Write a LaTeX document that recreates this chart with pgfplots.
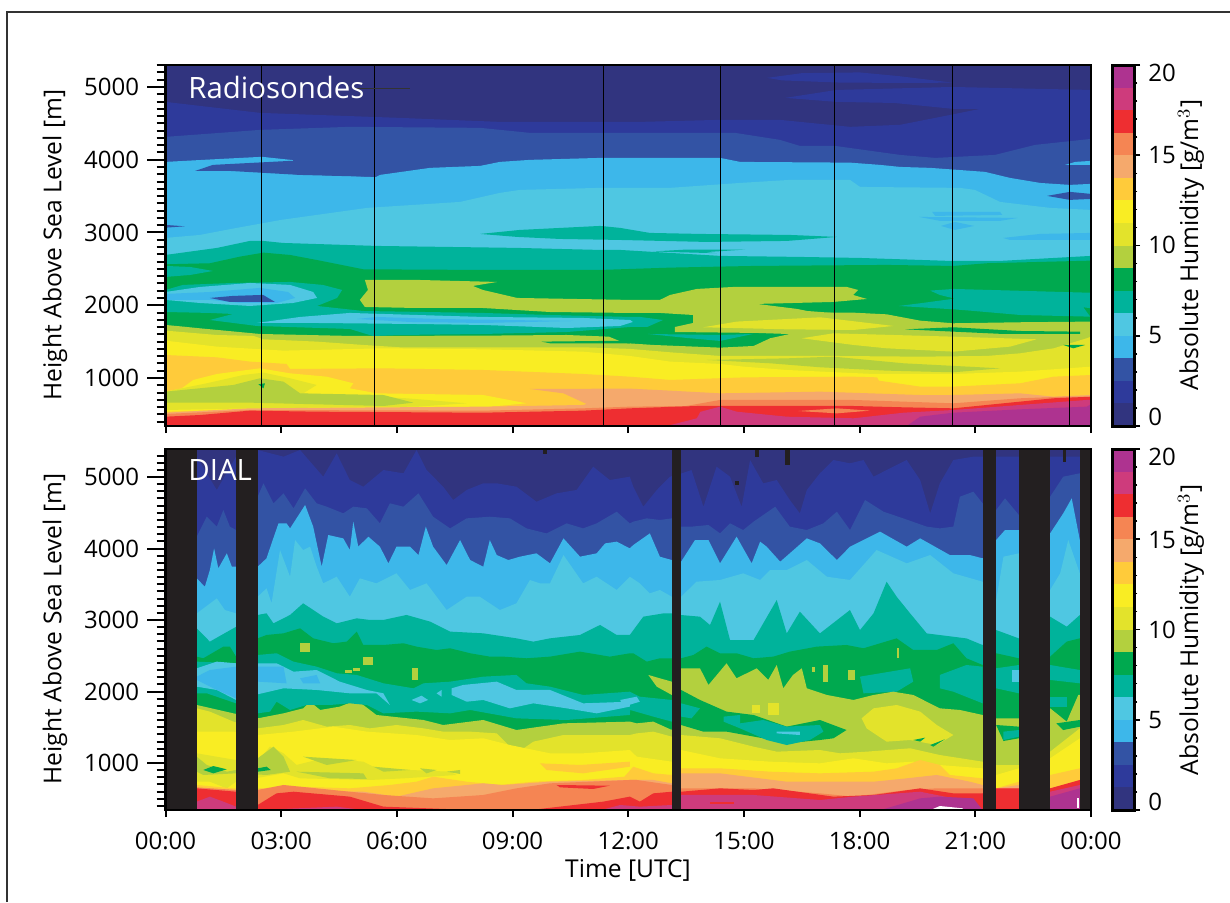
\documentclass[border=0pt]{standalone}
\usepackage{fontspec}
\setmainfont{Open Sans}
\usepackage{pgfplots}
\pgfplotsset{compat=1.18}
\definecolor{c0}{HTML}{31347F}
\definecolor{c1}{HTML}{2E3A9B}
\definecolor{c2}{HTML}{3353A4}
\definecolor{c3}{HTML}{3DB7EA}
\definecolor{c4}{HTML}{4FC7E2}
\definecolor{c5}{HTML}{00B39B}
\definecolor{c6}{HTML}{00A94F}
\definecolor{c7}{HTML}{B3D03E}
\definecolor{c8}{HTML}{E3E32B}
\definecolor{c9}{HTML}{F9ED23}
\definecolor{c10}{HTML}{FFCB3A}
\definecolor{c11}{HTML}{F5A96C}
\definecolor{c12}{HTML}{F58553}
\definecolor{c13}{HTML}{EE2E31}
\definecolor{c14}{HTML}{CE3B7C}
\definecolor{c15}{HTML}{AE3390}
\definecolor{barblack}{HTML}{231F20}
\newcommand\Band[2]{\addplot[fill=#1,draw=none] coordinates {#2} \closedcycle;}
\newcommand\Step[2]{\addplot[fill=#1,draw=none] coordinates {#2} \closedcycle;}
\newcommand\Patch[2]{\addplot[fill=#1,draw=none] coordinates {#2} --cycle;}
\newcommand\Sonde[1]{\addplot[black,line width=.5pt] coordinates {(#1,300)(#1,5500)};}
\newcommand\tickfont{\fontsize{12}{14}\selectfont}
\newcommand\labfont{\fontsize{12.3}{14}\selectfont}
\pgfplotsset{
  panel/.style={
    scale only axis, anchor=south west, width=462.75pt, height=180.5pt,
    xmin=0, xmax=24, clip=true, axis on top=true,
    axis line style={line width=1.2pt}, tick style={black,line width=1pt},
    tick align=outside, xtick pos=bottom, ytick pos=left,
    xtick={0,3,...,24}, ytick={1000,2000,3000,4000,5000},
    minor ytick={400,500,...,5300},
    major tick length=9pt, minor tick length=4.5pt,
    xtick style={/pgfplots/major tick length=3.5pt},
    scaled y ticks=false,
    yticklabel style={font=\tickfont,inner sep=0pt,xshift=-4pt,/pgf/number format/1000 sep=,/pgf/number format/assume math mode=true},
    xticklabel style={font=\tickfont,inner sep=0pt,yshift=-2pt},
  },
  cbar/.style={
    scale only axis, anchor=south west, width=11pt, height=180.5pt,
    xmin=0, xmax=1, ymin=0, ymax=20, xtick=\empty, axis on top=true,
    axis line style={line width=1.5pt}, tick style={black,line width=.8pt},
    tick align=outside, ytick pos=right, ytick={0,5,10,15,20}, minor ytick={1,2,...,19},
    yticklabels={}, major tick length=3pt, minor tick length=1.7pt,
  },
}
\newcommand\CbarFill{%
  \Patch{c0}{(0,0)(1,0)(1,1.25)(0,1.25)}
  \Patch{c1}{(0,1.25)(1,1.25)(1,2.5)(0,2.5)}
  \Patch{c2}{(0,2.5)(1,2.5)(1,3.75)(0,3.75)}
  \Patch{c3}{(0,3.75)(1,3.75)(1,5)(0,5)}
  \Patch{c4}{(0,5)(1,5)(1,6.25)(0,6.25)}
  \Patch{c5}{(0,6.25)(1,6.25)(1,7.5)(0,7.5)}
  \Patch{c6}{(0,7.5)(1,7.5)(1,8.75)(0,8.75)}
  \Patch{c7}{(0,8.75)(1,8.75)(1,10)(0,10)}
  \Patch{c8}{(0,10)(1,10)(1,11.25)(0,11.25)}
  \Patch{c9}{(0,11.25)(1,11.25)(1,12.5)(0,12.5)}
  \Patch{c10}{(0,12.5)(1,12.5)(1,13.75)(0,13.75)}
  \Patch{c11}{(0,13.75)(1,13.75)(1,15)(0,15)}
  \Patch{c12}{(0,15)(1,15)(1,16.25)(0,16.25)}
  \Patch{c13}{(0,16.25)(1,16.25)(1,17.5)(0,17.5)}
  \Patch{c14}{(0,17.5)(1,17.5)(1,18.75)(0,18.75)}
  \Patch{c15}{(0,18.75)(1,18.75)(1,20)(0,20)}
}
\begin{document}
\begin{tikzpicture}
\useasboundingbox (0pt,0pt) rectangle (615pt,451pt);
\draw[line width=1.2pt,color=black!80] (3.5pt,0pt) -- (3.5pt,445pt) -- (615pt,445pt);

% ---------- Radiosondes ----------
\begin{axis}[panel, at={(82.75pt,238pt)}, ymin=340, ymax=5302, xticklabels={}]
\Patch{c0}{(0,300)(24,300)(24,5500)(0,5500)}
\Band{c1}{(0,4795)(.89,4740)(2.45,4644)(6.08,4575)(8.67,4520)(12.31,4520)(14.38,4548)(15.93,4548)(17.75,4452)(19.05,4480)(20.35,4616)(21.64,4754)(24,4781)}
\Patch{c1}{(15.6,5125)(16.5,5190)(18,5200)(19,5150)(20.4,5060)(19.5,5055)(17.5,5060)(16,5090)}
\Patch{c1}{(16.07,4850)(17.4,4959)(20.4,5000)(24,4959)(24,4700)(20.4,4700)(18.9,4780)(17.4,4795)}
\Band{c2}{(0,4314)(1.41,4369)(2.45,4410)(4.78,4452)(8.16,4438)(9.45,4369)(11.27,4369)(14.77,4369)(15.93,4273)(16.45,4190)(17.36,4190)(19.05,4066)(19.96,4025)(21.51,4066)(22.55,4204)(24,4286)}
\Band{c3}{(0,3970)(1.4,4010)(2.5,4040)(3.3,3995)(3.35,3800)(5.46,3764)(5.56,3791)(6.86,3888)(8.16,3915)(8.67,3970)(9.45,3998)(11.27,4025)(14.38,4025)(14.9,3970)(17.75,3960)(18.53,3929)(19.05,3901)(19.83,3888)(21.25,3833)(21.9,3750)(22.68,3681)(23.45,3654)(24,3668)}
\Patch{c2}{(.77,3846)(1.23,3929)(3.23,3984)(5.46,3998)(5.46,3764)(3.49,3791)(1.67,3846)}
\Patch{c3}{(23.33,3929)(23.59,3970)(24,3984)(24,3929)}
\Band{c4}{(0,2925)(.89,2966)(1.85,3063)(3,3173)(5.23,3338)(7.64,3420)(8.67,3544)(9.19,3585)(11.27,3613)(13.08,3613)(14.9,3681)(16.2,3723)(17.75,3723)(18.01,3626)(20.6,3613)(20.99,3585)(21.64,3420)(22.94,3338)(24,3310)}
\Patch{c3}{(19.88,3283)(21.64,3283)(21.7,3241)(19.96,3228)}
\Patch{c3}{(19.54,3214)(22.1,3200)(21.64,3159)(20.09,3159)}
\Patch{c3}{(20.11,3090)(20.47,3145)(20.97,3090)(20.47,3035)}
\Patch{c3}{(21.72,2925)(22.68,2980)(24,2994)(24,2897)(21.9,2897)}
\Patch{c2}{(22.86,3503)(23.45,3558)(24,3530)(24,3461)(23.45,3448)}
\Patch{c2}{(0,3104)(.5,3085)(0,3066)}
\Band{c5}{(0,2691)(1.34,2788)(2.19,2884)(2.53,2884)(3.05,2856)(5.48,2815)(9.12,2788)(11.27,2760)(11.79,2760)(14.38,2678)(16.45,2664)(18.01,2650)(20.35,2609)(21.64,2609)(24,2678)}
\Patch{c5}{(8.16,2980)(9.19,3035)(11.27,3090)(11.79,3063)(12.56,2994)(13.86,2980)(16.2,2966)(17.41,2939)(16.12,2884)(14.04,2870)(11.71,2898)(10.23,2911)(9.12,2939)}
\Patch{c5}{(12.65,2740)(13.5,2765)(15.03,2765)(14,2730)(14.3,2715)(13.2,2730)}
\Band{c6}{(0,2563)(1.15,2577)(1.93,2668)(2.54,2723)(3.23,2691)(3.92,2622)(4.35,2577)(5.13,2494)(8.24,2485)(11.27,2485)(13.09,2517)(15.25,2540)(18.7,2554)(20.43,2540)(21.3,2577)(24,2613)}
\Patch{c5}{(0,2540)(.64,2526)(1.23,2471)(.64,2416)(0,2389)}
\Patch{c5}{(19.83,2201)(20.43,2224)(23.89,2173)(24,2173)(24,1958)(23.8,1972)(23.98,1843)(22.16,1866)(20.86,1926)(20.43,1944)(19.01,1990)(19.57,2027)(20.47,2091)(20.08,2141)}
\Band{c7}{(0,1729)(.46,1706)(.89,1683)(2.45,1605)(4.78,1578)(8.24,1582)(10.4,1591)(11.5,1568)(11.9,1480)(12.65,1454)(14.38,1417)(15.25,1440)(15.68,1546)(16.15,1600)(16.2,1889)(17.32,1898)(17.84,1898)(18.7,1875)(19.57,1788)(20.43,1752)(22.16,1766)(24,1775)}
\Patch{c7}{(5.17,2348)(6.52,2348)(8.6,2320)(7.97,2265)(8.23,2210)(9.12,2100)(12.05,2073)(12.82,2073)(13.08,2141)(13.78,2224)(14.72,2251)(17.67,2251)(17.96,2210)(17.83,2141)(18.19,2086)(17.31,2045)(15.34,2018)(16.38,1949)(16.64,1921)(17.31,1894)(17.31,1660)(16.14,1605)(15.34,1619)(13.21,1632)(13.21,1701)(13.68,1756)(13.68,1866)(12.82,1894)(12.05,1894)(9.97,1907)(8.23,1962)(6.52,1962)(5.17,1976)(5.04,2073)(5.25,2210)}
\Patch{c5}{(0,2210)(.45,2279)(1.75,2306)(3.23,2320)(4.08,2279)(4.58,2210)(4.45,2100)(3.93,1990)(5.12,1921)(8.23,1894)(9.97,1866)(12.05,1839)(12.31,1839)(12.9,1797)(12.49,1701)(12.05,1701)(10.41,1632)(8.23,1605)(6.08,1591)(5.38,1577)(4.78,1674)(2.37,1715)(1.15,1797)(1.75,1880)(1.15,1894)(0,1907)}
\Patch{c5}{(12.51,1605)(14.38,1591)(15.23,1605)(14.38,1509)(13.52,1550)}
\Patch{c4}{(2.37,1756)(3.49,1839)(4.78,1894)(6.52,1866)(8.23,1839)(10.83,1825)(12.05,1797)(12.12,1770)(11.79,1715)(10.41,1687)(8.23,1729)(6.52,1742)(3.93,1756)}
\Patch{c3}{(4.97,1811)(5.48,1839)(7.04,1811)(10.57,1784)(8.23,1756)(6.34,1770)}
\Patch{c4}{(0,2182)(.89,2251)(2.19,2306)(3.23,2279)(3.83,2182)(3.93,2100)(3.31,2031)(2.19,1990)(.89,2031)(0,2073)}
\Patch{c3}{(0,2155)(1.15,2182)(2.45,2238)(3.18,2182)(3.36,2100)(2.89,2031)(1.93,2031)(1.15,2073)(0,2073)}
\Patch{c2}{(1.15,2100)(1.75,2128)(2.53,2142)(2.84,2045)(1.67,2045)}
\Patch{c6}{(9.75,1500)(12.04,1513)(12.04,1477)(9.97,1477)}
\Band{c8}{(0,1651)(1.33,1591)(2.28,1578)(2.54,1532)(3.92,1500)(5.13,1454)(6.08,1422)(8.24,1422)(10.83,1422)(12.04,1400)(13.09,1353)(14.38,1303)(17.3,1303)(19.57,1293)(21.3,1303)(22.16,1339)(23.03,1408)(23.89,1546)(24,1568)}
\Patch{c8}{(16.5,1546)(17.32,1614)(20.43,1568)(22.59,1532)(21.9,1431)(20.43,1362)(18.7,1408)(17.84,1454)}
\Patch{c8}{(13.95,1697)(14.81,1775)(16.98,1834)(18.88,1715)(17.84,1660)(16.11,1669)}
\Patch{c6}{(19.18,1669)(20.43,1697)(22.16,1646)(23.72,1637)(23.72,1605)(21.73,1605)(20.43,1637)}
\Patch{c6}{(23.28,1454)(23.85,1454)(23.54,1408)}
\Patch{c7}{(14.04,1248)(16.11,1270)(17.32,1293)(19.14,1202)(21.64,1133)(20.43,1078)(18.7,1101)(16.98,1147)(15.68,1202)}
\Band{c9}{(0,1513)(1.33,1431)(3.06,1376)(5.65,1408)(8.24,1394)(10.83,1362)(12.04,1303)(13.09,1225)(14.38,1193)(14.99,1156)(16.11,1110)(18.36,1055)(20.43,1055)(22.16,1087)(24,1156)}
\Band{c10}{(0,1316)(1.33,1284)(2.19,1225)(3.14,1193)(3.23,1124)(5.65,1133)(8.24,1110)(10.83,1055)(12.04,1018)(13.09,973)(15.03,1009)(17.84,1018)(18.45,1009)(18.5,963)(19.57,881)(20.43,881)(22.16,927)(23.03,1018)(24,1041)}
\Patch{c9}{(.42,858)(.72,973)(1.33,1055)(2.45,1133)(3.23,1064)(4.18,1018)(4.87,927)(4.78,858)(5.48,789)(8.24,766)(9.36,652)(8.24,597)(2.19,569)(0,537)(0,812)}
\Patch{c8}{(0,812)(1.07,927)(2.02,1041)(2.54,1074)(3.23,996)(3.92,904)(3.57,789)(6.25,721)(7.81,652)(6.51,606)(2.19,583)(0,560)}
\Patch{c7}{(0,812)(1.76,904)(2.45,996)(3.06,950)(3.49,789)(5.65,766)(6.43,661)(5.65,615)(2.19,661)(0,661)}
\Patch{c6}{(2.41,913)(2.58,927)(2.54,858)}
\Band{c11}{(0,523)(2.19,583)(8.24,606)(10.83,629)(10.92,643)(10.32,789)(9.45,849)(12.04,854)(13.09,826)(14.38,789)(16.98,812)(19.57,766)(20.43,766)(22.16,789)(23.03,743)(24,766)}
\Band{c12}{(0,505)(2.19,560)(8.24,551)(10.83,583)(12.04,606)(13.5,615)(14.38,698)(17.84,698)(20.43,652)(22.16,721)(23.3,743)(24,743)}
\Band{c13}{(0,468)(.89,491)(2.19,551)(3.92,537)(8.24,523)(10.83,551)(12.04,583)(13.78,615)(17.84,615)(19.14,597)(20.43,583)(22.16,675)(23.03,721)(24,743)}
\Patch{c14}{(13,340)(13.78,446)(13.87,535)(14.38,606)(14.81,537)(16.11,468)(17.84,446)(19.14,523)(20.43,560)(22.16,629)(23.89,698)(24,698)(24,340)}
\Patch{c15}{(19.22,340)(19.57,468)(20.43,523)(22.16,569)(23.89,606)(24,640)(24,340)}
\Patch{c12}{(16.41,546)(17.41,583)(18.27,551)(17.41,514)}
\Sonde{2.48}\Sonde{5.43}\Sonde{11.37}\Sonde{14.4}\Sonde{17.34}\Sonde{20.4}\Sonde{23.43}
\addplot[black!80,line width=.5pt] coordinates {(4.9,4985)(6.35,4985)};
\end{axis}

% ---------- DIAL ----------
\begin{axis}[panel, at={(82.75pt,46pt)}, ymin=343, ymax=5392,
  xticklabels={00:00,03:00,06:00,09:00,12:00,15:00,18:00,21:00,00:00}]
\Patch{c0}{(0,300)(24,300)(24,5500)(0,5500)}
\Step{c1}{(.81,5285)(1.33,4819)(1.83,5285)(2.39,5378)(3.06,5285)(3.49,5378)(4.09,5005)(4.44,5331)(4.78,4958)(5.13,4865)(5.65,5098)(6.17,5052)(6.51,5378)(6.77,5098)(7.2,4865)(7.46,4679)(7.81,4819)(8.24,4912)(8.59,4912)(9.1,4865)(9.62,4655)(10.14,4772)(10.66,4819)(11.09,5145)(11.52,4958)(12.04,5005)(12.13,4865)(12.39,4585)(12.74,4819)(13.08,5005)(13.39,5052)(13.64,5098)(13.95,4585)(14.29,5145)(14.64,5005)(14.94,4585)(15.16,5238)(15.5,4912)(15.85,4958)(16.19,4679)(16.45,4492)(16.63,4819)(16.97,5052)(17.32,5238)(17.75,5192)(18.1,5238)(18.36,5005)(18.7,5098)(19.22,5238)(19.57,4958)(19.83,4492)(20.08,4912)(20.43,5238)(20.95,5285)(21.19,5285)(24,5285)}
\Step{c2}{(.81,4166)(1.07,4445)(1.33,4306)(1.5,4539)(1.67,4306)(1.83,4259)(2.39,4725)(2.54,4912)(2.8,4632)(3.06,4772)(3.32,4562)(3.62,4842)(3.92,4632)(4.18,4585)(4.61,4492)(4.87,4585)(5.22,4562)(5.56,4352)(5.82,4632)(6.17,4585)(6.56,4772)(6.94,4445)(7.38,4282)(7.81,4422)(8.41,4445)(8.93,4422)(9.36,4282)(9.88,4212)(10.4,4352)(10.83,4282)(11.18,4352)(11.7,4515)(12.04,4352)(12.13,4376)(12.48,4422)(12.82,4399)(13.13,4422)(13.37,4306)(13.64,4306)(14.08,4329)(14.38,4212)(14.64,4352)(14.98,4259)(15.25,4376)(15.81,4585)(16.19,4306)(16.63,4259)(17.06,4352)(17.41,4515)(17.75,4259)(18.14,4679)(18.62,4515)(19.13,4422)(19.74,4306)(20.08,4282)(20.43,4306)(20.6,4725)(20.95,4795)(21.19,4632)(21.54,4539)(21.77,4702)(22.13,4469)(22.94,4725)(23.28,5005)(23.71,5052)(24,5052)}
\Step{c3}{(.81,3583)(1.02,3466)(1.15,3699)(1.26,4003)(1.37,3723)(1.59,3933)(1.72,3746)(1.83,3746)(2.39,3746)(2.62,3863)(2.75,4072)(2.93,4352)(3.14,4352)(3.23,4282)(3.62,4609)(3.83,4306)(4.05,3746)(4.22,4189)(4.61,4142)(4.78,3979)(4.87,4376)(5,4026)(5.26,4166)(5.56,4026)(5.78,3793)(5.99,4026)(6.34,4026)(6.56,3909)(6.75,4306)(6.94,4026)(7.29,3769)(7.64,4119)(7.9,3839)(8.24,3746)(8.41,4119)(8.59,3909)(8.89,3839)(9.19,3886)(9.62,3933)(9.97,3793)(10.32,4142)(10.75,3886)(11.18,3933)(11.4,4072)(11.7,4096)(12.04,4003)(12.13,4049)(12.56,4212)(12.82,3886)(13.13,3839)(13.37,3816)(13.73,4119)(14.08,4119)(14.38,3793)(14.81,4166)(15.2,3793)(15.42,4096)(15.59,4026)(15.94,3816)(16.63,4142)(16.97,4072)(17.41,3839)(17.75,4026)(18.53,4236)(19.22,4026)(19.57,4142)(20.34,3909)(20.86,3909)(21.19,3863)(21.54,4119)(21.77,4259)(22.13,4259)(22.94,4212)(23.28,4492)(23.5,4702)(23.71,4119)(24,4119)}
\Step{c4}{(.81,3093)(1.33,3303)(1.54,3140)(1.83,3093)(2.39,3326)(2.62,3443)(2.75,3233)(2.97,3979)(3.23,3606)(3.36,4119)(3.57,3979)(3.75,4026)(3.92,3746)(4.09,3513)(4.44,3606)(4.78,3326)(5.04,3583)(5.47,3513)(5.99,3653)(6.34,3420)(6.77,3513)(7.29,3140)(7.81,3326)(8.15,3326)(8.67,3140)(9.1,3233)(9.45,3560)(9.71,3513)(9.97,3513)(10.32,3909)(10.83,3513)(11.18,3606)(11.7,3420)(12.04,3606)(12.3,3513)(12.56,3373)(12.82,3420)(13.13,3326)(13.37,3326)(13.77,3536)(14.38,3560)(14.98,3653)(15.42,3560)(15.68,3699)(16.11,3699)(16.63,3839)(17.15,3606)(17.75,3560)(18.44,3979)(19.22,3793)(19.83,3909)(20.43,3653)(21.19,3536)(21.54,3280)(21.73,3886)(22.13,3933)(22.94,3420)(23.2,3653)(23.41,4119)(23.71,3653)(24,3653)}
\Step{c5}{(.81,2884)(1.15,2698)(1.76,2884)(2.39,3071)(2.62,3094)(2.8,2954)(3.23,3071)(3.57,3234)(4.09,3048)(4.44,2954)(4.96,3024)(5.3,3001)(5.65,3001)(6.25,3071)(6.86,2978)(7.38,2838)(8.24,2814)(9.1,2744)(9.54,2698)(9.97,2744)(10.75,2791)(11.09,2884)(11.27,2931)(11.7,2791)(12.04,2791)(12.39,3047)(12.91,3093)(13.13,3093)(13.37,3070)(13.86,3047)(14.12,2930)(14.38,3256)(14.64,2720)(15.25,2720)(15.85,3280)(16.11,2813)(16.45,3117)(16.97,2813)(17.75,3140)(18.01,2860)(18.36,3093)(18.7,3536)(18.96,3326)(19.31,3093)(19.74,2813)(20.08,2790)(20.77,2743)(21.19,2650)(21.54,2860)(22.13,2743)(22.94,3047)(23.37,2907)(23.71,3070)(24,3070)}
\Step{c6}{(.81,2488)(.98,2465)(1.5,2628)(1.67,2628)(1.83,2488)(2.39,2744)(2.62,2791)(3.06,2814)(3.49,2884)(3.83,2744)(4.35,2675)(4.7,2698)(4.96,2838)(5.13,2651)(5.65,2651)(6.17,2675)(6.51,2628)(7.03,2581)(7.38,2605)(7.9,2535)(8.41,2488)(8.76,2488)(9.36,2465)(9.97,2488)(10.75,2558)(11.52,2488)(12.04,2535)(12.13,2535)(12.48,2418)(12.82,2465)(13.13,2465)(13.37,2465)(13.69,2511)(14.03,2628)(14.38,2535)(14.81,2535)(15.25,2465)(15.76,2488)(16.19,2558)(16.89,2628)(17.66,2651)(18.1,2605)(18.96,2744)(19.39,2581)(20,2581)(20.43,2675)(20.77,2465)(21.19,2371)(21.54,2535)(22.13,2465)(22.94,2488)(23.37,2698)(23.71,2744)(24,2744)}
\Patch{c7}{(3.49,2558)(3.75,2558)(3.75,2675)(3.49,2675)}
\Patch{c7}{(5.13,2371)(5.39,2371)(5.39,2488)(5.13,2488)}
\Patch{c7}{(6.38,2162)(6.56,2162)(6.56,2325)(6.38,2325)}
\Patch{c7}{(4.65,2255)(4.83,2255)(4.83,2301)(4.65,2301)}
\Patch{c7}{(4.87,2287)(5.04,2287)(5.04,2325)(4.87,2325)}
\Patch{c5}{(18.01,2208)(19.31,2325)(19.39,2138)(18.96,1998)(18.1,1975)}
\Patch{c5}{(20.08,2232)(20.77,2371)(21.19,2348)(21.19,1835)(20.43,1998)(20.08,2045)}
\Patch{c5}{(21.54,2325)(22.13,2371)(22.13,1975)(21.54,2045)}
\Patch{c4}{(21.94,2301)(22.12,2301)(22.12,2138)(21.94,2138)}
\Patch{c5}{(22.94,2371)(23.71,2301)(23.71,2115)(22.94,2162)}
\Patch{c5}{(22.94,1928)(23.37,1928)(23.37,1788)(22.94,1788)}
\Patch{c7}{(18.96,2605)(19.03,2605)(19.03,2465)(18.96,2465)}
\Patch{c7}{(17.71,2301)(17.88,2301)(17.88,2162)(17.71,2162)}
\Patch{c7}{(17.06,2371)(17.19,2371)(17.19,2138)(17.06,2138)}
\Patch{c7}{(16.76,2348)(16.84,2348)(16.84,2278)(16.76,2278)}
\Step{c7}{(.81,1812)(1.76,1695)(2.39,1625)(3.06,1695)(3.57,1765)(3.75,1858)(4.01,1742)(4.52,1789)(4.96,1882)(5.47,1672)(6.69,1602)(7.2,1532)(8.24,1602)(9.1,1462)(10.32,1555)(12.04,1579)(12.22,1555)(12.65,1579)(13.13,1462)(13.37,2325)(13.86,2325)(14.08,2092)(14.55,2395)(14.81,2185)(15.33,2325)(15.63,2162)(15.85,2371)(16.02,2045)(16.27,2231)(16.5,2325)(16.63,2045)(17.15,1952)(17.84,1882)(18.36,1952)(18.87,1998)(19.39,1952)(20.08,1765)(20.6,1742)(21.19,1672)(21.54,1625)(22.13,1625)(22.94,1765)(23.37,1579)(23.67,1952)(24,1952)}
\Patch{c7}{(12.52,2232)(12.82,2185)(13.13,2138)(13.13,1952)(12.74,2068)}
\Patch{c6}{(13.37,2022)(13.86,1882)(14.55,1719)(15.25,1672)(16.11,1509)(16.97,1602)(17.66,1462)(17.32,1346)(16.97,1322)(16.11,1276)(15.5,1346)(14.55,1439)(13.95,1439)(13.37,1532)}
\Patch{c5}{(13.37,1835)(13.86,1765)(13.64,1625)(13.37,1649)}
\Patch{c5}{(14.47,1649)(14.9,1672)(14.9,1555)(15.5,1602)(16.11,1509)(16.97,1532)(17.06,1439)(16.71,1322)(16.11,1252)(15.59,1322)(14.9,1485)(14.47,1579)}
\Patch{c4}{(15.85,1439)(16.45,1439)(16.45,1392)(15.85,1415)}
\Patch{c6}{(21.54,1532)(22.13,1509)(22.13,1346)(21.73,1308)}
\Patch{c5}{(21.73,1439)(22.13,1462)(22.13,1369)(21.73,1322)}
\Patch{c6}{(23.1,1555)(23.71,1602)(23.71,1508)(23.28,1462)}
\Patch{c5}{(.81,2418)(1.83,2395)(2.39,2511)(2.88,2535)(3.32,2418)(3.92,2348)(4.44,2255)(4.96,2232)(5.65,2115)(6.43,2045)(6.69,2115)(7.38,2138)(8.24,2208)(9.1,2232)(9.36,2115)(9.97,2068)(10.83,1952)(12.04,1998)(12.3,1928)(13.13,1882)(13.13,1579)(12.65,1649)(12.05,1742)(12.04,1672)(10.4,1602)(9.1,1625)(7.9,1742)(7.38,1695)(6.51,1719)(5.65,1695)(5.22,1812)(4.78,1835)(4.27,1812)(3.66,1812)(3.23,1742)(2.88,1858)(2.71,1719)(2.39,1695)(1.83,1835)(1.07,1975)(.81,1975)}
\Patch{c4}{(.81,2325)(1.33,2418)(1.83,2395)(2.39,2395)(2.88,2395)(3.32,2278)(3.92,2301)(4.52,2138)(5.22,2022)(5.65,1975)(5.82,1812)(5.47,1975)(4.78,1975)(3.92,2022)(3.06,2045)(2.39,1961)(1.83,1882)(1.33,2022)(.81,2068)}
\Patch{c3}{(.81,2208)(1.15,2301)(1.83,2348)(2.39,2348)(3.06,2348)(3.14,2115)(2.39,2138)(1.83,1905)(1.33,2022)(.81,2162)}
\Patch{c3}{(3.49,2185)(3.92,2232)(4.01,2115)(3.57,2115)}
\Patch{c4}{(7.42,2045)(7.72,2092)(8.59,2138)(9.1,2022)(9.97,2022)(10.83,1835)(12.04,1858)(12.04,1789)(11.18,1695)(10.4,1765)(9.54,1835)(8.93,1765)(8.24,1882)(7.81,1858)(7.42,1952)}
\Patch{c4}{(7.03,1975)(7.16,2022)(7.16,1928)}
\Patch{c4}{(6.38,1882)(6.64,1942)(6.81,1882)(6.6,1835)}
\Patch{c4}{(11.79,1882)(12.22,1928)(12.3,1858)(11.87,1788)}
\Step{c8}{(.81,1765)(1.15,1719)(1.76,1579)(2.39,1485)(3.06,1532)(3.57,1602)(4.18,1509)(4.78,1532)(5.3,1485)(5.99,1532)(6.69,1485)(7.2,1439)(7.9,1439)(8.59,1415)(9.1,1136)(9.54,1299)(10.32,1392)(10.83,1392)(12.04,1392)(12.22,1415)(12.65,1439)(13.13,1369)(13.37,1392)(14.38,1346)(15.25,1229)(15.85,1159)(16.97,1182)(17.49,1136)(18.18,1159)(19.31,1206)(20.08,1112)(21.19,1019)(21.54,972)(22.13,972)(22.94,1159)(23.71,1485)(24,1485)}
\Patch{c8}{(18.05,1625)(18.36,1765)(18.96,1812)(19.57,1719)(20,1532)(20.43,1392)(20,1252)(19.31,1322)(18.7,1299)(18.18,1485)}
\Patch{c8}{(15.2,1812)(15.42,1812)(15.42,1695)(15.2,1695)}
\Patch{c8}{(15.63,1835)(15.9,1835)(15.9,1672)(15.63,1672)}
\Patch{c6}{(19.39,1322)(19.7,1355)(19.57,1299)}
\Patch{c6}{(19.83,1252)(20.21,1332)(19.91,1229)}
\Step{c9}{(.81,1439)(1.76,1439)(2.39,1392)(3.32,1439)(4.35,1509)(5.22,1439)(6.51,1392)(7.38,1322)(8.24,1346)(8.93,1252)(9.97,1136)(10.83,1136)(12.04,1182)(12.22,1089)(13.13,1019)(13.37,1182)(14.38,1066)(15.68,1019)(16.97,996)(17.84,1066)(18.7,996)(19.39,1019)(20.08,972)(21.19,926)(21.54,833)(22.13,926)(22.94,1066)(23.71,1346)(24,1346)}
\Patch{c8}{(.81,1136)(1.83,1042)(2.39,1019)(2.71,1229)(3.06,1136)(3.4,973)(4.09,1066)(5.13,1019)(5.47,926)(6.34,903)(7.38,879)(7.55,833)(6.17,786)(5.3,763)(3.49,786)(3.06,856)(1.83,739)(1.59,646)(1.15,739)(.81,739)}
\Patch{c7}{(.81,1089)(1.07,973)(1.59,879)(1.83,903)(2.39,1066)(2.8,1229)(3.06,1089)(3.23,879)(2.62,833)(1.83,856)(.98,833)(.81,879)}
\Patch{c7}{(3.57,1089)(4.96,1042)(4.18,973)}
\Patch{c7}{(5.39,949)(6.34,903)(5.65,879)}
\Patch{c7}{(3.4,879)(5.13,856)(5.22,777)(4.27,786)}
\Patch{c7}{(6.6,926)(7.03,903)(6.77,856)}
\Patch{c7}{(7.29,879)(7.64,903)(7.64,847)}
\Patch{c6}{(.98,903)(1.24,958)(1.59,912)(1.24,856)}
\Patch{c6}{(2.39,926)(2.62,949)(2.73,903)(2.39,879)}
\Step{c10}{(.81,693)(1.76,646)(2.39,646)(3.49,669)(4.78,646)(5.82,693)(6.51,739)(6.94,809)(7.81,739)(8.67,693)(9.54,739)(10.83,763)(11.9,809)(12.13,949)(12.65,856)(13.13,833)(13.37,926)(14.38,926)(15.68,879)(16.97,856)(18.36,879)(18.96,926)(19.57,1042)(20.08,973)(20.34,833)(21.19,786)(21.54,646)(22.13,739)(22.94,833)(23.71,926)(24,926)}
\Patch{c10}{(9.71,996)(10.75,973)(12.04,1019)(12.04,949)(10.83,856)(9.88,903)}
\Step{c11}{(.81,646)(1.76,623)(2.39,623)(3.23,646)(3.92,599)(5.13,599)(5.99,530)(6.94,646)(8.24,716)(8.76,693)(9.97,739)(12.04,763)(12.65,763)(13.13,716)(13.37,856)(14.38,856)(16.11,739)(18.36,739)(19.22,786)(20,833)(20.86,739)(21.19,693)(21.54,646)(22.13,693)(22.94,646)(23.71,739)(24,739)}
\Step{c12}{(.81,660)(1.83,623)(2.39,623)(3.06,693)(4.78,599)(5.65,553)(6.94,506)(8.24,553)(9.1,646)(9.97,716)(12.04,763)(12.22,763)(13.13,693)(13.37,646)(15.25,646)(16.97,576)(17.84,530)(19.22,623)(20,646)(21.19,646)(22.94,646)(23.71,739)(24,739)}
\Step{c13}{(.81,646)(1.83,599)(2.39,413)(2.88,576)(3.32,599)(4.78,530)(5.65,390)(9.1,320)(11.35,460)(12.04,530)(12.3,460)(12.65,576)(13.13,599)(13.37,599)(14.38,646)(15.25,623)(15.76,646)(17.32,530)(18.36,553)(19.57,646)(20.43,576)(21.19,576)(21.54,646)(22.94,646)(23.71,763)(24,763)}
\Patch{c13}{(10.14,693)(11.52,683)(11.09,637)(10.23,660)}
\Step{c14}{(.81,460)(1.15,530)(1.5,460)(1.83,390)(2.39,343)(4.44,390)(5.13,343)(11.3,343)(11.79,413)(12.3,390)(13.13,413)(13.37,553)(15.25,553)(16.97,483)(17.84,530)(19.57,599)(20.43,506)(20.95,483)(21.19,343)(22.13,343)(22.94,599)(23.71,693)(24,693)}
\Patch{c13}{(14.12,460)(14.73,460)(14.73,422)(14.12,422)}
\Patch{c15}{(18.53,340)(19.57,506)(20.08,530)(20.95,506)(21.19,340)}
\Patch{c15}{(22.94,340)(22.94,530)(23.71,646)(24,646)(24,340)}
\Patch{white}{(19.91,343)(19.91,360)(20.08,399)(20.68,366)(20.68,343)}
\Patch{white}{(23.63,506)(23.7,506)(23.7,376)(23.63,376)}
\Patch{barblack}{(0,300)(.81,300)(.81,5500)(0,5500)}
\Patch{barblack}{(1.83,300)(2.39,300)(2.39,5500)(1.83,5500)}
\Patch{barblack}{(13.13,300)(13.37,300)(13.37,5500)(13.13,5500)}
\Patch{barblack}{(21.19,300)(21.54,300)(21.54,5500)(21.19,5500)}
\Patch{barblack}{(22.13,300)(22.94,300)(22.94,5500)(22.13,5500)}
\Patch{barblack}{(23.71,300)(24,300)(24,5500)(23.71,5500)}
\Patch{barblack}{(15.29,5285)(15.38,5285)(15.38,5400)(15.29,5400)}
\Patch{barblack}{(16.06,5168)(16.2,5168)(16.2,5400)(16.06,5400)}
\Patch{barblack}{(14.78,4890)(14.88,4890)(14.88,4940)(14.78,4940)}
\Patch{barblack}{(23.28,5215)(23.36,5215)(23.36,5400)(23.28,5400)}
\Patch{barblack}{(9.8,5320)(9.88,5320)(9.88,5400)(9.8,5400)}
\end{axis}

% ---------- colour bars ----------
\begin{axis}[cbar, at={(556pt,238pt)}]
\CbarFill
\end{axis}
\begin{axis}[cbar, at={(556pt,46pt)}]
\CbarFill
\end{axis}

% ---------- texts ----------
\node[white,anchor=west,inner sep=0pt,font=\fontsize{14.7}{16}\selectfont] at (94pt,407.5pt) {Radiosondes};
\node[white,anchor=west,inner sep=0pt,font=\fontsize{14.7}{16}\selectfont] at (94pt,216pt) {DIAL};
\node[rotate=90,inner sep=0pt,font=\labfont] at (27.5pt,328.5pt) {Height Above Sea Level [m]};
\node[rotate=90,inner sep=0pt,font=\labfont] at (27.5pt,136.5pt) {Height Above Sea Level [m]};
\node[inner sep=0pt,font=\labfont] at (314pt,16pt) {Time [UTC]};
\node[rotate=90,inner sep=0pt,font=\labfont] at (595.5pt,328.5pt) {Absolute Humidity [g/m$^{3}$]};
\node[rotate=90,inner sep=0pt,font=\labfont] at (595.5pt,136pt) {Absolute Humidity [g/m$^{3}$]};
\foreach \t/\yy in {0/242.5,5/283.5,10/328.5,15/373.5,20/414.5}{
  \node[anchor=west,inner sep=0pt,font=\tickfont] at (574pt,\yy pt) {\t};
}
\foreach \t/\yy in {0/50,5/91,10/136,15/181,20/222.5}{
  \node[anchor=west,inner sep=0pt,font=\tickfont] at (574pt,\yy pt) {\t};
}
\end{tikzpicture}
\end{document}
